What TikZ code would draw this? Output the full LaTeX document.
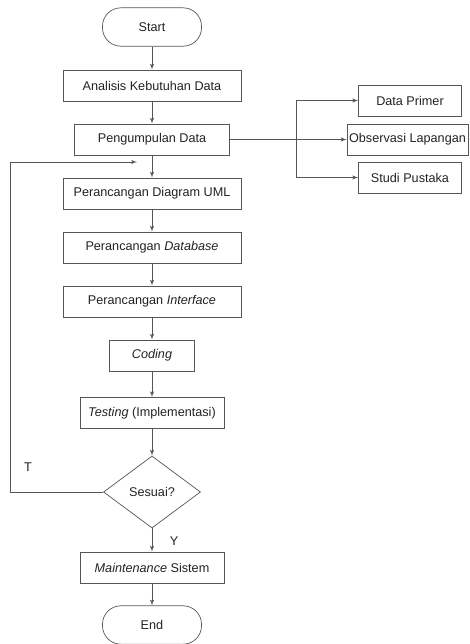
\documentclass[tikz,border=0pt]{standalone}
\usepackage{fontspec}
\setmainfont{Liberation Sans}
\usetikzlibrary{shapes.geometric}
\usetikzlibrary{arrows}
\usepackage{xcolor}
\definecolor{linegray}{HTML}{555555}
\definecolor{textgray}{HTML}{222222}
\tikzset{
  procbox/.style={draw=linegray,line width=0.6pt,minimum height=0.93cm,inner sep=1pt,text=textgray,font=\fontsize{10.8}{12}\selectfont},
  termbox/.style={draw=linegray,line width=0.6pt,rounded corners=0.55cm,minimum width=2.97cm,minimum height=1.15cm,text=textgray,font=\fontsize{10.8}{12}\selectfont},
  flow/.style={->,draw=linegray,line width=0.7pt}
}

\begin{document}
\begin{tikzpicture}[x=0.03cm,y=-0.03cm,>=latex']
      \useasboundingbox (0,0) rectangle (469,644);
      % main column
      \node [termbox, name=start] at (152,27) {Start};
      \node [procbox, minimum width=5.34cm, name=ana] at (152,85.5) {Analisis Kebutuhan Data};
      \node [procbox, minimum width=4.65cm, name=peng] at (152,139.5) {Pengumpulan Data};
      \node [procbox, minimum width=5.34cm, name=uml] at (152,193.5) {Perancangan Diagram UML};
      \node [procbox, minimum width=5.34cm, name=db] at (152,247.5) {Perancangan \textit{Database}};
      \node [procbox, minimum width=5.34cm, name=intf] at (152,301.5) {Perancangan \textit{Interface}};
      \node [procbox, minimum width=2.55cm, name=cod] at (152,355.5) {\textit{Coding}};
      \node [procbox, minimum width=4.32cm, name=test] at (152,413) {\textit{Testing} (Implementasi)};
      \node [draw=linegray, line width=0.6pt, diamond, aspect=1.35, minimum width=2.91cm, minimum height=2.16cm, inner sep=0pt,
             text=textgray, font=\fontsize{10.8}{12}\selectfont, name=cek] at (152,492) {Sesuai?};
      \node [procbox, minimum width=4.32cm, name=maint] at (152,567.5) {\textit{Maintenance} Sistem};
      \node [termbox, name=stop] at (152,625) {End};

      % data sources
      \node [procbox, minimum width=3.09cm, name=prim] at (410,100.5) {Data Primer};
      \node [procbox, minimum width=3.63cm, name=obs] at (407.5,139.5) {Observasi Lapangan};
      \node [procbox, minimum width=3.09cm, name=stud] at (410,177.5) {Studi Pustaka};
      \coordinate (br) at (296,139.5);

      % loop back
      \coordinate (lp) at (10,492);
      \coordinate (fb) at (137,162);
      \node [text=textgray, font=\fontsize{10.8}{12}\selectfont, name=tlab] at (28,467) {T};
      \node [text=textgray, font=\fontsize{10.8}{12}\selectfont, name=ylab] at (174,541) {Y};

      \draw [flow] (start) -- (ana);
      \draw [flow] (ana) -- (peng);
      \draw [flow] (peng) -- (uml);
      \draw [flow] (uml) -- (db);
      \draw [flow] (db) -- (intf);
      \draw [flow] (intf) -- (cod);
      \draw [flow] (cod) -- (test);
      \draw [flow] (test) -- (cek);
      \draw [flow] (cek) -- (maint);
      \draw [flow] (maint) -- (stop);
      \draw [flow] (peng) -- (obs);
      \draw [flow] (br) |- (prim);
      \draw [flow] (br) |- (stud);
      \draw [flow] (cek.west) -- (lp) |- (fb);
\end{tikzpicture}
\end{document}
